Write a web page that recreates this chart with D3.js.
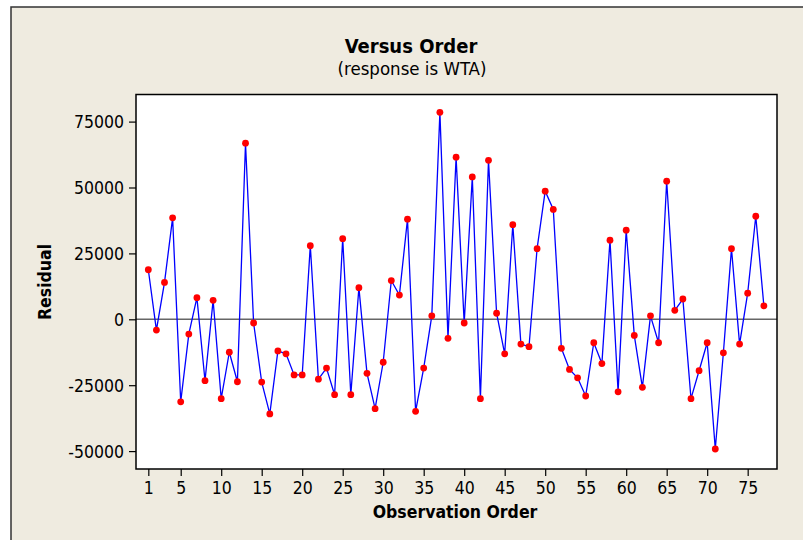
<!DOCTYPE html>
<html>
<head>
<meta charset="utf-8">
<title>Versus Order</title>
<style>
  body { margin: 0; background: #fff; }
  svg { display: block; }
  text { font-family: "DejaVu Sans Condensed", "DejaVu Sans", sans-serif; font-stretch: condensed; fill: #000; }
</style>
</head>
<body>
<svg width="803" height="540"></svg>
<script src="https://d3js.org/d3.v7.min.js"></script>
<script>

// residuals, observation 1..77
var residuals = [
  18800, -4100, 14000, 38500, -31300, -5600, 8200, -23300, 7200, -30100,
  -12500, -23700, 66800, -1400, -23800, -35900, -12000, -13100, -21100, -21100,
  27900, -22700, -18500, -28600, 30600, -28600, 12000, -20500, -33900, -16300,
  14700, 9200, 38000, -34900, -18500, 1300, 78500, -7200, 61500, -1400,
  54000, -30100, 60300, 2300, -13100, 35900, -9400, -10400, 26800, 48600,
  41700, -11000, -19000, -22200, -29100, -8900, -16800, 30000, -27500, 33800,
  -6100, -25800, 1300, -8900, 52400, 3400, 7700, -30100, -19500, -8900,
  -49200, -12700, 26800, -9400, 9900, 39100, 5100
];
var order = residuals.map(function(d, i) { return i + 1; });

var xTicks = [1, 5, 10, 15, 20, 25, 30, 35, 40, 45, 50, 55, 60, 65, 70, 75];
var yTicks = [-50000, -25000, 0, 25000, 50000, 75000];

var svg = d3.select("svg");

// beige panel with the frame on the top and left
svg.append("rect")
  .attr("x", 11).attr("y", 7)
  .attr("width", 803 - 11).attr("height", 540 - 7)
  .attr("fill", "#efebe0");
svg.append("path")
  .attr("d", "M11,540V7H803")
  .attr("fill", "none")
  .attr("stroke", "#333")
  .attr("stroke-width", 1.5);

var plotL = 136, plotR = 777, plotT = 94.5, plotB = 469;

var x = d3.scaleLinear().domain([-0.52, 78.62]).range([plotL, plotR]);
var y = d3.scaleLinear().domain([-56790, 85280]).range([plotB, plotT]);

svg.append("rect")
  .attr("x", plotL).attr("y", plotT)
  .attr("width", plotR - plotL).attr("height", plotB - plotT)
  .attr("fill", "#fff");

// axes
var xAxis = svg.append("g")
  .attr("transform", "translate(0," + plotB + ")")
  .call(d3.axisBottom(x).tickValues(xTicks).tickSize(7).tickPadding(5));
var yAxis = svg.append("g")
  .attr("transform", "translate(" + plotL + ",0)")
  .call(d3.axisLeft(y).tickValues(yTicks).tickSize(7).tickPadding(5)
    .tickFormat(function(d) { return String(d); }));

[xAxis, yAxis].forEach(function(a) {
  a.select(".domain").remove();
  a.selectAll("line").attr("stroke", "#000").attr("stroke-width", 1.2);
  a.selectAll("text").attr("font-size", 17.5).attr("fill", "#000")
    .style("font-family", "\"DejaVu Sans Condensed\", \"DejaVu Sans\", sans-serif");
});
yAxis.selectAll("text").attr("dy", "0.36em");
xAxis.selectAll("text").attr("dy", "0.75em");

// zero reference line
svg.append("line")
  .attr("x1", plotL).attr("x2", plotR)
  .attr("y1", y(0)).attr("y2", y(0))
  .attr("stroke", "#666")
  .attr("stroke-width", 1.6);

var line = d3.line()
  .x(function(d, i) { return x(order[i]); })
  .y(function(d) { return y(d); });

svg.append("path")
  .datum(residuals)
  .attr("d", line)
  .attr("fill", "none")
  .attr("stroke", "#0000ff")
  .attr("stroke-width", 1.3);

svg.append("g")
  .selectAll("circle")
  .data(residuals)
  .enter().append("circle")
  .attr("cx", function(d, i) { return x(order[i]); })
  .attr("cy", function(d) { return y(d); })
  .attr("r", 3.4)
  .attr("fill", "#ff0000");

// plot frame
svg.append("rect")
  .attr("x", plotL).attr("y", plotT)
  .attr("width", plotR - plotL).attr("height", plotB - plotT)
  .attr("fill", "none")
  .attr("stroke", "#000")
  .attr("stroke-width", 1.5);

// titles
svg.append("text")
  .attr("x", 411).attr("y", 52.5)
  .attr("text-anchor", "middle")
  .attr("font-size", 20).attr("font-weight", "bold")
  .text("Versus Order");
svg.append("text")
  .attr("x", 412).attr("y", 75)
  .attr("text-anchor", "middle")
  .attr("font-size", 18.5)
  .text("(response is WTA)");
svg.append("text")
  .attr("x", 455).attr("y", 518)
  .attr("text-anchor", "middle")
  .attr("font-size", 17.5).attr("font-weight", "bold")
  .text("Observation Order");
svg.append("text")
  .attr("transform", "translate(51,282) rotate(-90)")
  .attr("text-anchor", "middle")
  .attr("font-size", 17.5).attr("font-weight", "bold")
  .text("Residual");

</script>
</body>
</html>
